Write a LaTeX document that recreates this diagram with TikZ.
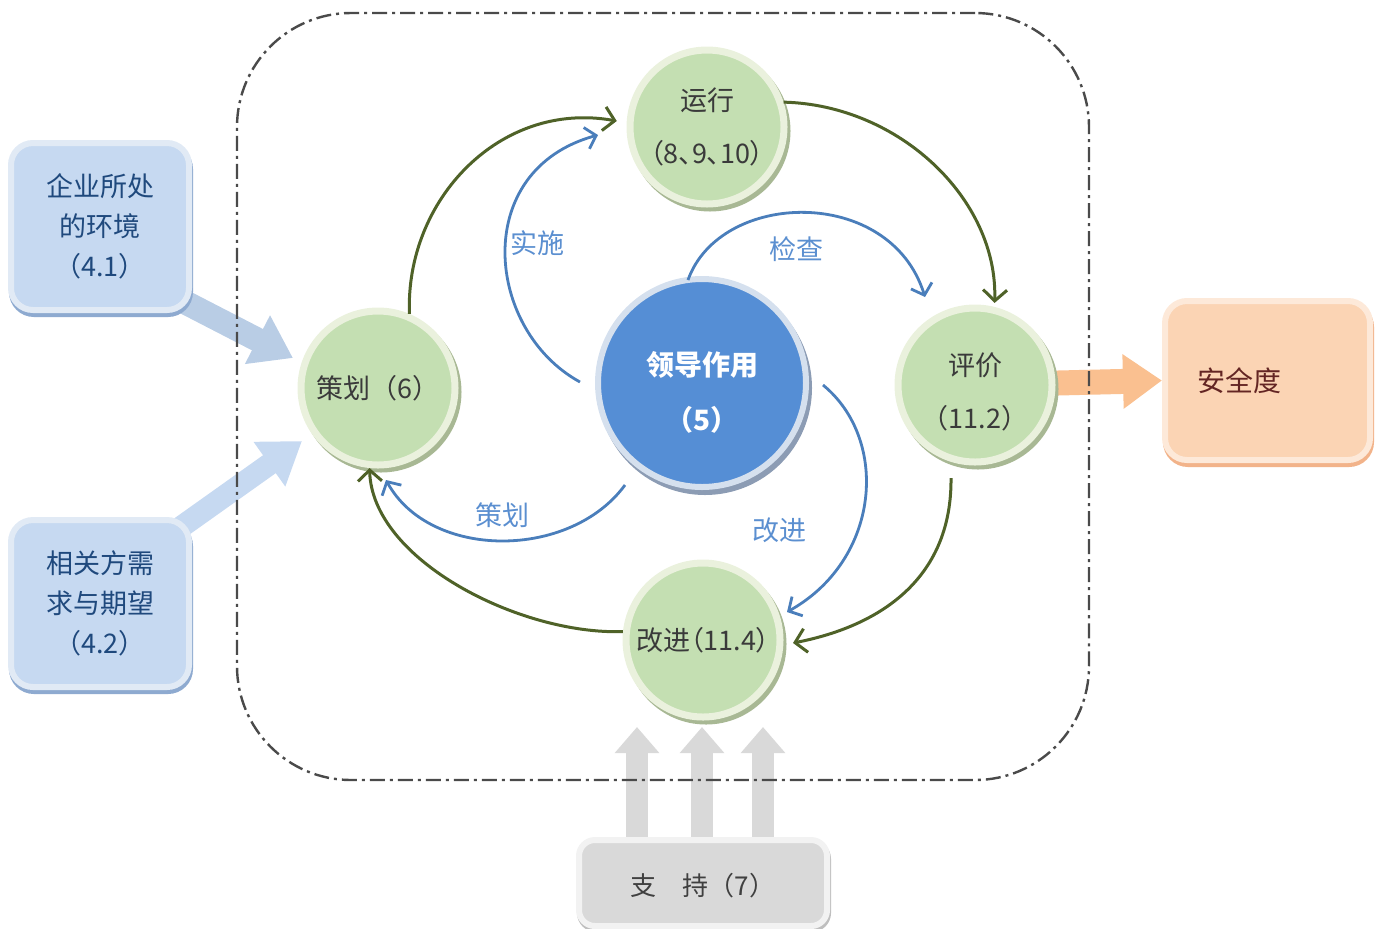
\documentclass[tikz,border=0pt]{standalone}
\usepackage{fontspec}
\setmainfont{Noto Sans CJK SC}
\newfontfamily\cjkp{Noto Sans CJK SC}[RawFeature=+palt]
\usetikzlibrary{arrows.meta,calc}
\pgfdeclarelayer{background}
\pgfsetlayers{background,main}
\definecolor{gfill}{HTML}{C4DFB2}
\definecolor{gring}{HTML}{EAF1DD}
\definecolor{gshadow}{HTML}{A8B894}
\definecolor{gtext}{HTML}{3A3A3A}
\definecolor{lfill}{HTML}{558ED5}
\definecolor{lring}{HTML}{D5E0EE}
\definecolor{lshadow}{HTML}{8C9CB4}
\definecolor{bfill}{HTML}{C6D9F1}
\definecolor{bring}{HTML}{E1EAF5}
\definecolor{bshadow}{HTML}{8EAAD0}
\definecolor{btext}{HTML}{1F497D}
\definecolor{ofill}{HTML}{FBD4B4}
\definecolor{oring}{HTML}{FDE9D9}
\definecolor{oshadow}{HTML}{F2B38A}
\definecolor{otext}{HTML}{632523}
\definecolor{sfill}{HTML}{D9D9D9}
\definecolor{sring}{HTML}{F2F2F2}
\definecolor{sshadow}{HTML}{BFBFBF}
\definecolor{stext}{HTML}{404040}
\definecolor{ggreen}{HTML}{4F6228}
\definecolor{bline}{HTML}{4A7EBB}
\definecolor{lbltext}{HTML}{5B8FD0}
\definecolor{fbone}{HTML}{B9CDE5}
\definecolor{fbtwo}{HTML}{C6D9F1}
\definecolor{forange}{HTML}{FAC090}
\definecolor{fgray}{HTML}{D9D9D9}
\definecolor{framecol}{HTML}{4A4A4A}
\begin{document}
\begin{tikzpicture}[x=0.5pt,y=-0.5pt,
  greencirc/.style={circle, minimum size=77pt, inner sep=0pt, line width=3.5pt,
    fill=gfill, draw=gring, text=gtext, align=center,
    font=\fontsize{13.5pt}{26.5pt}\selectfont,
    preaction={fill=gshadow, draw=gshadow, transform canvas={shift={(1.5pt,-2pt)}}}},
  leadcirc/.style={circle, minimum size=104pt, inner sep=0pt, line width=3pt,
    fill=lfill, draw=lring, text=white, align=center,
    font=\fontsize{14pt}{27.5pt}\selectfont\bfseries,
    preaction={fill=lshadow, draw=lshadow, transform canvas={shift={(1.5pt,-2.5pt)}}}},
  bluebox/.style={rectangle, rounded corners=11pt, minimum width=89pt, minimum height=83.5pt,
    inner sep=0pt, line width=3pt, fill=bfill, draw=bring, text=btext, align=center,
    font=\fontsize{13.5pt}{20pt}\selectfont,
    preaction={fill=bshadow, draw=bshadow, transform canvas={shift={(0.5pt,-2pt)}}}},
  safebox/.style={rectangle, rounded corners=11pt, minimum width=102.5pt, minimum height=79.5pt,
    inner sep=0pt, line width=3pt, fill=ofill, draw=oring, text=otext, align=left,
    text width=70.5pt, font=\fontsize{14pt}{20pt}\selectfont,
    preaction={fill=oshadow, draw=oshadow, transform canvas={shift={(0.5pt,-2pt)}}}},
  supbox/.style={rectangle, rounded corners=8pt, minimum width=124pt, minimum height=43pt,
    inner sep=0pt, line width=3pt, fill=sfill, draw=sring, text=stext, align=center,
    font=\fontsize{13pt}{20pt}\selectfont,
    preaction={fill=sshadow, draw=sshadow, transform canvas={shift={(0.5pt,-1.5pt)}}}},
  framebox/.style={rectangle, rounded corners=57pt, minimum width=426pt, minimum height=383.5pt,
    draw=framecol, line width=1.2pt, dash pattern=on 7.5pt off 2.5pt on 1.5pt off 2.5pt},
  garrow/.style={draw=ggreen, line width=1.5pt, -{Straight Barb[length=5.5pt,width=12pt]}},
  barrow/.style={draw=bline, line width=1.4pt, -{Straight Barb[length=5pt,width=11pt]}},
  lbl/.style={text=lbltext, font=\fontsize{13.5pt}{16pt}\selectfont, inner sep=0pt},
  fatone/.style={draw=fbone, line width=12pt, -{Triangle[length=20pt,width=26pt]}},
  fattwo/.style={draw=fbtwo, line width=11pt, -{Triangle[length=20pt,width=26pt]}},
  fatorange/.style={draw=forange, line width=12.5pt, -{Triangle[length=19.5pt,width=26pt]}},
  fatgray/.style={draw=fgray, line width=11pt, -{Triangle[length=13pt,width=21.5pt]}}
]
\useasboundingbox (0,0) rectangle (1380,928);

% dash-dot frame
\node[framebox] (frame) at (663,396.5) {};

% nodes
\node[bluebox] (env) at (100,226.5) {企业所处\\的环境\\（4.1）};
\node[bluebox] (needs) at (100,603.5) {相关方需\\求与期望\\（4.2）};
\node[safebox] (safety) at (1267.5,380.5) {安全度};
\node[supbox] (support) at (703,883) {\rule{0pt}{14pt}支　持（7）};

\node[greencirc] (plan) at (378,388) {策划（6）};
\node[greencirc] (run) at (707,127) {运行\\{\cjkp （8、9、10）}};
\node[greencirc] (eval) at (975,385) {\rule{0pt}{18pt}评价\\（11.2）};
\node[greencirc] (improve) at (703,640) {改进{\cjkp （}11.4{\cjkp ）}};
\node[leadcirc] (lead) at (702,383) {\rule{0pt}{21pt}领导作用\\（5）};

% labels
\node[lbl] (lshishi) at (537,243) {实施};
\node[lbl] (ljiancha) at (796,249) {检查};
\node[lbl] (lgaijin) at (779,530) {改进};
\node[lbl] (lcehua) at (502,515) {策划};

% fat arrows behind
\begin{pgfonlayer}{background}
\draw[fatone] ($(env.south east)+(-25,-20)$) -- ($(plan.center)+(-85,-30)$);
\draw[fattwo] ($(needs.north east)+(-25,20)$) -- ($(plan.center)+(-76,53)$);
\draw[fatorange] (eval.center) -- (safety.west);
\draw[fatgray] ($(support.north)+(-66,10)$) -- ($(improve.center)+(-66,87)$);
\draw[fatgray] ($(support.north)+(-1,10)$) -- ($(improve.center)+(-1,87)$);
\draw[fatgray] ($(support.north)+(60,10)$) -- ($(improve.center)+(60,87)$);
\end{pgfonlayer}

% green cycle
\draw[garrow, shorten >=5pt] (plan.67) .. controls (405,200) and (500,100) .. (run.177);
\draw[garrow, shorten >=2pt] (run.18) .. controls (900,105) and (998,200) .. (eval.76);
\draw[garrow] ($(eval.center)+(-24,93)$) .. controls (952,575) and (885,625) .. ($(improve.center)+(90,3)$);
\draw[garrow] (improve.174) .. controls (520,635) and (372,560) .. (plan.264);

% blue leadership arrows
\draw[barrow] ($(lead.center)+(-122,-1)$) .. controls (485,330) and (470,170) .. ($(run.center)+(-109,8)$);
\draw[barrow] ($(lead.center)+(-14,-103)$) .. controls (720,190) and (890,185) .. ($(eval.center)+(-50,-88)$);
\draw[barrow] ($(lead.center)+(121,2)$) .. controls (890,440) and (880,560) .. ($(improve.center)+(84,-28)$);
\draw[barrow] ($(lead.center)+(-77,102)$) .. controls (570,560) and (430,560) .. ($(plan.center)+(8,92)$);
\end{tikzpicture}
\end{document}
